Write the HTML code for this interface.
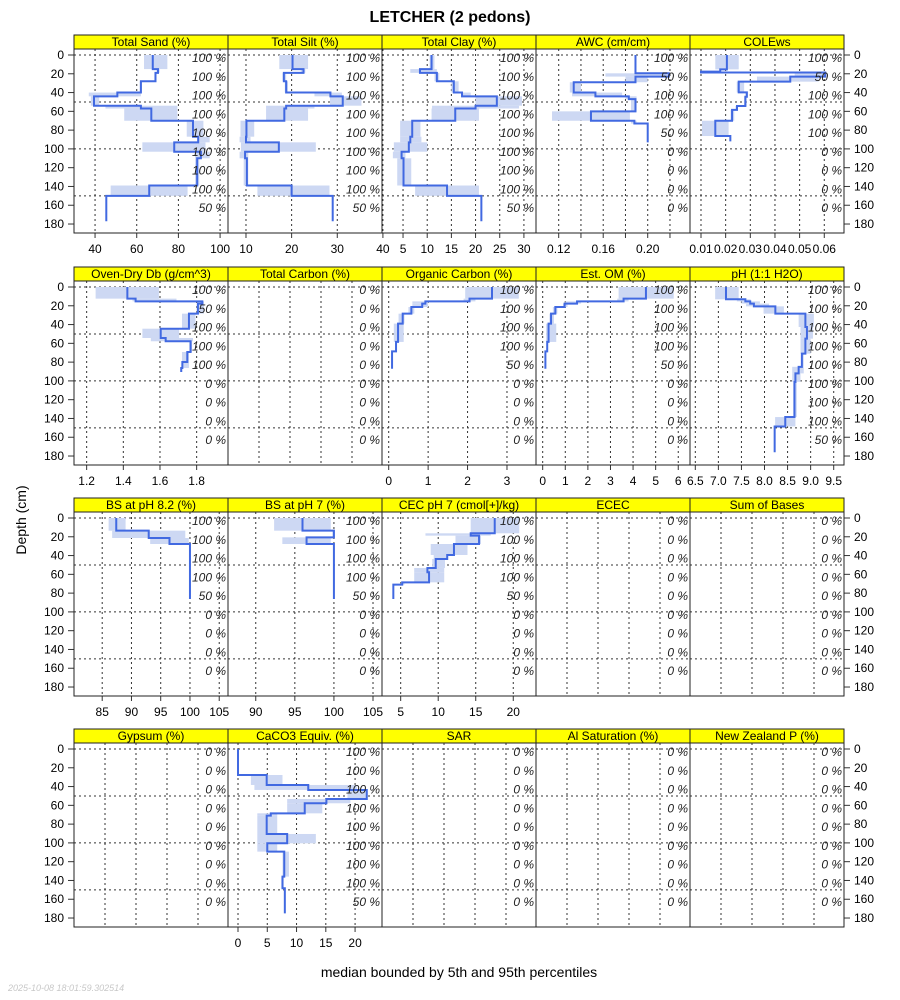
<!DOCTYPE html>
<html><head><meta charset="utf-8"><style>
body{margin:0;background:#fff;}
svg{display:block;font-family:"Liberation Sans",sans-serif;}
</style></head><body>
<svg id="chart" width="900" height="1000" viewBox="0 0 900 1000">
<rect width="900" height="1000" fill="#fff"/>
<text x="450" y="22" text-anchor="middle" font-size="16" font-weight="bold">LETCHER (2 pedons)</text>
<text transform="translate(26,520) rotate(-90)" text-anchor="middle" font-size="14">Depth (cm)</text>
<text x="459" y="977" text-anchor="middle" font-size="14">median bounded by 5th and 95th percentiles</text>
<text x="8" y="991" font-size="9" fill="#c8c8c8" font-style="italic">2025-10-08 18:01:59.302514</text>
<g id="panels"></g>
</svg>
<script>
// ---- data arrays ----
const texDepth=[0,15,19,28,40,44,54,57,70,87,93,103,110,139,150,177];
const sandMed=[67.7,70.2,69,62,50.7,39.5,62,67,87,89.5,78,90.8,89,66,45.4];
const sandLo=[63.5,69.5,68.5,61.5,37,38,45,54,84,89,62.7,88,88,47.5,45.4];
const sandHi=[74.7,71,69.5,62.5,62,42,79.5,79.5,92,95,93,95,90,84.4,45.4];
const siltMed=[20.2,22.6,18.3,18.8,28.5,31.2,18.8,18.4,10.1,10,17.2,9.8,10.2,20,29];
const siltLo=[17.3,22,18,18.5,25,28.4,14.4,14.4,8.8,8.6,8.9,8.6,9.5,12.5,29];
const siltHi=[23.6,23,18.8,19.2,31,35.3,25,23.6,11.8,11,25.3,10.5,10.5,28.3,29];
const clayMed=[10.9,8.5,12,15.5,17.2,24.4,20,15.8,6.9,6.5,6.2,4.7,5.1,14.1,21.2];
const clayLo=[10.5,6.5,11.5,15,17,20,11,10.9,4.4,4.4,3.1,2.9,3.8,7.5,21.2];
const clayHi=[11.5,12,12.5,16.5,19,29.6,29,20.7,8.6,8.8,10,5.5,6.7,20.7,21.2];
const awcDepth=[0,19.5,23,29,40,44,47,60,70,73,93];
const awcMed=[0.189,0.219,0.189,0.1335,0.153,0.183,0.189,0.149,0.188,0.2];
const awcLo=[0.189,0.162,0.18,0.13,0.132,0.18,0.185,0.114,0.185,0.2];
const awcHi=[0.189,0.217,0.2,0.14,0.177,0.19,0.19,0.184,0.19,0.2];
const coleDepth=[0,15.3,17.7,18.6,23,28.4,39.8,44.4,54.3,58.5,70,86.3,92];
const coleMed=[0.0205,0.0178,0.01,0.0604,0.0462,0.0253,0.0286,0.028,0.0246,0.0226,0.0158,0.0219];
const coleLo=[0.0158,0.0175,0.01,0.048,0.0327,0.0245,0.028,0.0275,0.024,0.022,0.0104,0.0219];
const coleHi=[0.0253,0.018,0.01,0.06,0.0577,0.0275,0.029,0.0285,0.025,0.0235,0.0212,0.0219];
const dbDepth=[0,12.4,15.3,17.7,28.4,44.4,54.3,57.8,69.2,79.9,86.3,90.5];
const dbMed=[1.422,1.467,1.831,1.807,1.758,1.604,1.631,1.767,1.749,1.722,1.716];
const dbLo=[1.249,1.45,1.82,1.8,1.72,1.504,1.55,1.76,1.72,1.72,1.71];
const dbHi=[1.594,1.69,1.84,1.84,1.794,1.704,1.78,1.775,1.758,1.758,1.72];
const ocDepth=[0,12.4,15.3,17.7,21.3,28.4,39,58.5,68.5,87];
const ocMed=[2.62,2.05,0.93,0.85,0.575,0.355,0.237,0.186,0.085];
const ocLo=[1.94,1.9,0.6,0.6,0.5,0.25,0.13,0.16,0.085];
const ocHi=[3.3,2.2,1.0,1.0,0.65,0.4,0.38,0.2,0.085];
const omMed=[4.57,3.58,1.52,0.97,0.56,0.37,0.26,0.2,0.12];
const omLo=[3.36,3.3,1.0,0.9,0.45,0.3,0.15,0.18,0.12];
const omHi=[5.8,3.8,1.7,1.1,0.65,0.5,0.6,0.22,0.12];
const phDepth=[0,13.1,15.3,17.7,20.6,28.4,42.6,55,71,85,92,101,138.5,148.5,176];
const phMed=[7.165,7.585,7.69,7.77,8.235,8.886,8.92,8.886,8.81,8.74,8.67,8.65,8.45,8.22];
const phLo=[6.93,7.4,7.5,7.6,7.98,8.74,8.78,8.78,8.8,8.6,8.6,8.62,8.23,8.22];
const phHi=[7.44,7.7,7.9,8.1,8.42,9.07,9.05,9.0,8.85,8.85,8.78,8.7,8.67,8.22];
const bs82Depth=[0,13.5,21.3,27.7,86.3];
const bs82Med=[87.4,92.95,96.5,100];
const bs82Lo=[86.1,86.7,93.2,100];
const bs82Hi=[89,99.2,99.8,100];
const bs7Depth=[0,13.5,20.6,27.7,86.3];
const bs7Med=[95.98,100,96.5,100];
const bs7Lo=[92.35,99.8,93.4,100];
const bs7Hi=[99.6,100,99.6,100];
const cecDepth=[0,16.3,18.8,27.7,39.4,43.6,53.2,57.8,68.5,71,86.3];
const cecMed=[17.53,14.33,15.44,12.1,11.2,9.67,8.56,8.78,5.2,4.02];
const cecLo=[14.33,8.3,12.3,9,9.4,9.2,6.8,6.8,5,4.02];
const cecHi=[20.8,17,15.7,13.9,11.3,10.9,10.8,10.8,5.5,4.02];
const caDepth=[0,27.7,38.3,43.6,53.2,57.8,68.5,71,90.5,100.4,109.3,135.9,148.3,175];
const caMed=[0,4.9,12,22,15.1,11.4,5.6,4.9,8.4,5,7.9,7.6,8];
const caLo=[0,2.2,2.8,18.7,8.4,8.4,3.3,3.3,3.3,3.3,7.6,7.4,8];
const caHi=[0,7.6,20.3,22.1,19.2,14.4,6.7,6.7,13.3,6.7,8.7,7.8,8];
const depthTicks=[0,20,40,60,80,100,120,140,160,180];

const rowY0=[55,287,518,749];
const colX=[74,228,382,536,690];
const PW=154, KY=0.939;
const P100=['100 %','100 %','100 %','100 %','100 %','100 %','100 %','100 %','50 %'];
const P5=['100 %','50 %','100 %','100 %','100 %','0 %','0 %','0 %','0 %'];
const P4=['100 %','100 %','100 %','100 %','50 %','0 %','0 %','0 %','0 %'];
const P0=['0 %','0 %','0 %','0 %','0 %','0 %','0 %','0 %','0 %'];
function rng(a,b,s){const r=[];for(let v=a;v<=b+1e-9;v+=s)r.push(Math.round(v*1000)/1000);return r;}

const panels=[
 {n:'total-sand',t:'Total Sand (%)',lo:29.9,hi:103.8,ticks:[40,60,80,100],lab:[40,60,80,100],d:texDepth,m:sandMed,l:sandLo,h:sandHi,p:P100},
 {n:'total-silt',t:'Total Silt (%)',lo:6.06,hi:39.8,ticks:[10,20,30,40],lab:[10,20,30,40],d:texDepth,m:siltMed,l:siltLo,h:siltHi,p:P100},
 {n:'total-clay',t:'Total Clay (%)',lo:0.65,hi:32.5,ticks:[5,10,15,20,25,30],lab:[5,10,15,20,25,30],d:texDepth,m:clayMed,l:clayLo,h:clayHi,p:P100},
 {n:'awc',t:'AWC (cm/cm)',lo:0.0996,hi:0.238,ticks:rng(0.12,0.22,0.02),lab:['0.12','0.16','0.20'],d:awcDepth,m:awcMed,l:awcLo,h:awcHi,p:['100 %','50 %','100 %','100 %','50 %','0 %','0 %','0 %','0 %']},
 {n:'colews',t:'COLEws',lo:0.00554,hi:0.068,ticks:rng(0.01,0.06,0.01),lab:['0.01','0.02','0.03','0.04','0.05','0.06'],d:coleDepth,m:coleMed,l:coleLo,h:coleHi,p:P5},
 {n:'oven-dry-db',t:'Oven-Dry Db (g/cm^3)',lo:1.131,hi:1.971,ticks:[1.2,1.4,1.6,1.8],lab:['1.2','1.4','1.6','1.8'],d:dbDepth,m:dbMed,l:dbLo,h:dbHi,p:P5},
 {n:'total-carbon',t:'Total Carbon (%)',p:P0},
 {n:'organic-carbon',t:'Organic Carbon (%)',lo:-0.17,hi:3.736,ticks:[0,1,2,3],lab:[0,1,2,3],d:ocDepth,m:ocMed,l:ocLo,h:ocHi,p:P4},
 {n:'est-om',t:'Est. OM (%)',lo:-0.296,hi:6.52,ticks:[0,1,2,3,4,5,6],lab:[0,1,2,3,4,5,6],d:ocDepth,m:omMed,l:omLo,h:omHi,p:P4},
 {n:'ph',t:'pH (1:1 H2O)',lo:6.385,hi:9.723,ticks:rng(6.5,9.5,0.5),lab:['6.5','7.0','7.5','8.0','8.5','9.0','9.5'],d:phDepth,m:phMed,l:phLo,h:phHi,p:P100},
 {n:'bs-ph82',t:'BS at pH 8.2 (%)',lo:80.18,hi:106.5,ticks:[85,90,95,100,105],lab:[85,90,95,100,105],d:bs82Depth,m:bs82Med,l:bs82Lo,h:bs82Hi,p:P4},
 {n:'bs-ph7',t:'BS at pH 7 (%)',lo:86.45,hi:106.15,ticks:[90,95,100,105],lab:[90,95,100,105],d:bs7Depth,m:bs7Med,l:bs7Lo,h:bs7Hi,p:P4},
 {n:'cec-ph7',t:'CEC pH 7 (cmol[+]/kg)',lo:2.51,hi:23.03,ticks:[5,10,15,20],lab:[5,10,15,20],d:cecDepth,m:cecMed,l:cecLo,h:cecHi,p:P4},
 {n:'ecec',t:'ECEC',p:P0},
 {n:'sum-of-bases',t:'Sum of Bases',p:P0},
 {n:'gypsum',t:'Gypsum (%)',p:P0},
 {n:'caco3-equiv',t:'CaCO3 Equiv. (%)',lo:-1.71,hi:24.6,ticks:[0,5,10,15,20],lab:[0,5,10,15,20],d:caDepth,m:caMed,l:caLo,h:caHi,p:P100},
 {n:'sar',t:'SAR',p:P0},
 {n:'al-saturation',t:'Al Saturation (%)',p:P0},
 {n:'new-zealand-p',t:'New Zealand P (%)',p:P0}
];

const NS='http://www.w3.org/2000/svg';
const root=document.getElementById('panels');
function el(tag,attrs,parent){const e=document.createElementNS(NS,tag);for(const k in attrs)e.setAttribute(k,attrs[k]);(parent||root).appendChild(e);return e;}

// y-axis ticks both sides
for(let r=0;r<4;r++){
  const y0=rowY0[r];
  depthTicks.forEach(d=>{
    const y=y0+d*KY;
    el('line',{x1:68,x2:74,y1:y,y2:y,stroke:'#333'});
    el('line',{x1:844,x2:850,y1:y,y2:y,stroke:'#333'});
    const t1=el('text',{x:64,y:y+4,'text-anchor':'end','font-size':12});
    t1.textContent=d;
    
    
    const t2=el('text',{x:854,y:y+4,'font-size':12});
    t2.textContent=d;
    
    
  });
}

panels.forEach((p,i)=>{
  const r=Math.floor(i/5), c=i%5;
  const L=colX[c], y0=rowY0[r], T=y0-6, B=T+184;
  const g=el('g',{});
  
  
  const X=v=>L+(v-p.lo)/(p.hi-p.lo)*PW;
  const Y=d=>y0+d*KY;
  // grid
  const gx = p.ticks ? p.ticks.map(X) : [L+31,L+62,L+93,L+124];
  gx.forEach(x=>el('line',{x1:x,x2:x,y1:T,y2:B,stroke:'#333','stroke-dasharray':'2,3','stroke-width':1},g));
  [0,50,100,150].forEach(d=>el('line',{x1:L,x2:L+PW,y1:Y(d),y2:Y(d),stroke:'#333','stroke-dasharray':'2,3','stroke-width':1},g));
  // band + line
  if(p.m){
    for(let k=0;k<p.m.length;k++){
      const x1=X(p.l[k]),x2=X(p.h[k]);
      const b=el('rect',{x:x1,y:Y(p.d[k]),width:Math.max(x2-x1,0.01),height:Y(p.d[k+1])-Y(p.d[k]),fill:'#cdd8f3'},g);
      
      
    }
    let dd='M'+X(p.m[0])+','+Y(p.d[0]);
    for(let k=0;k<p.m.length;k++){
      dd+=' H'+X(p.m[k])+' V'+Y(p.d[k+1]);
    }
    const ln=el('path',{d:dd,fill:'none',stroke:'#4169e1','stroke-width':2},g);
    
    
    // x ticks
    p.ticks.forEach(v=>el('line',{x1:X(v),x2:X(v),y1:B,y2:B+5,stroke:'#333'},g));
    p.lab.forEach(v=>{
      const t=el('text',{x:X(+v),y:B+20,'text-anchor':'middle','font-size':12},g);
      t.textContent=v;
      
      
    });
  }
  // percent labels
  p.p.forEach((s,k)=>{
    const t=el('text',{x:L+PW-2,y:Y(k*20)+7,'text-anchor':'end','font-size':12,'font-style':'italic',fill:'#222'},g);
    t.textContent=s;
    
    
  });
  // border
  el('rect',{x:L,y:T,width:PW,height:184,fill:'none',stroke:'#222','stroke-width':1},g);
  // strip
  const s=el('rect',{x:L,y:T-14,width:PW,height:14,fill:'#ffff00',stroke:'#222','stroke-width':1},g);
  
  
  const st=el('text',{x:L+PW/2,y:T-3,'text-anchor':'middle','font-size':12},g);
  st.textContent=p.t;
  
  
});
</script>
</body></html>
